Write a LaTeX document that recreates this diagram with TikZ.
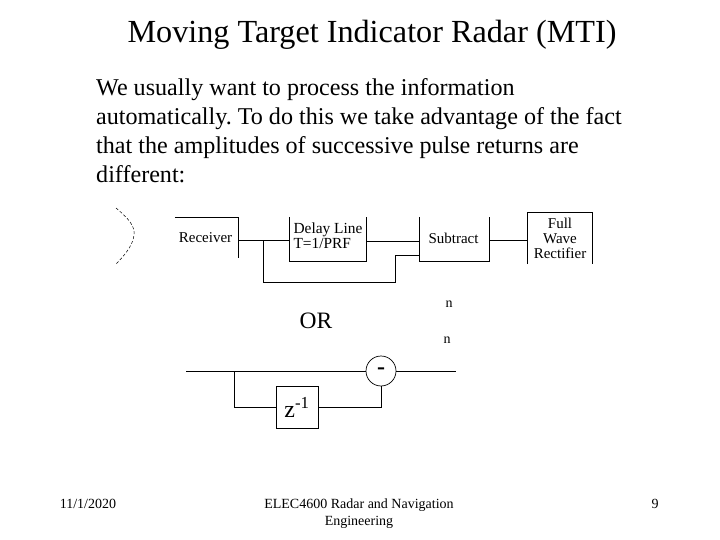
\documentclass[tikz,border=0pt]{standalone}
\usepackage{fontspec}
\setmainfont{Liberation Serif}
\usetikzlibrary{positioning, calc}

\begin{document}
\frenchspacing
\begin{tikzpicture}[
    x=1pt, y=-1pt,
    txt/.style={inner sep=0pt, align=center},
    openblock/.style={inner sep=0pt, align=center, font=\fontsize{15}{15}\selectfont},
    wire/.style={line width=0.9pt},
    page/.style={font=\fontsize{14}{17}\selectfont, inner sep=0pt, align=center},
]
\useasboundingbox (0, 0) rectangle (720, 540);

\node[txt, font=\fontsize{32.2}{36}\selectfont] (title) at (372, 35) {Moving Target Indicator Radar (MTI)};
\node[inner sep=0pt, align=left, anchor=north west, font=\fontsize{24.1}{29}\selectfont] (body) at (96, 78)
    {We usually want to process the information\\automatically. To do this we take advantage of the fact\\that the amplitudes of successive pulse returns are\\different:};

% upper chain
\node[openblock, minimum width=63pt, minimum height=40pt] (receiver) at (206.5, 238) {\raisebox{-2pt}{Receiver}\hspace{2pt}};
\node[openblock, minimum width=76pt, minimum height=44pt, align=left, font=\fontsize{15.4}{15}\selectfont] (delay) at (328, 239) {Delay Line\\T=1/PRF\\[-9pt]\mbox{}};
\node[openblock, minimum width=69pt, minimum height=44pt] (subtract) at (454.5, 239) {\raisebox{1pt}{Subtract}\hspace{2pt}};
\node[openblock, minimum width=64pt, minimum height=51pt] (rectifier) at (560, 238.5) {Full\\Wave\\Rectifier};

\draw[wire] (receiver.north west) -- (receiver.north east) -- (receiver.south east);
\draw[wire] (delay.north west) -- (delay.south west) -- (delay.south east) -- (delay.north east);
\draw[wire] (subtract.north west) -- (subtract.south west) -- (subtract.south east) -- (subtract.north east);
\draw[wire] (rectifier.south west) -- (rectifier.north west) -- (rectifier.north east) -- (rectifier.south east);

\coordinate (branch) at (263, 240);
\coordinate (subin) at (420, 255);
\draw[wire] (receiver.east |- branch) -- (delay.west |- branch);
\draw[wire] (branch) -- (263, 282) -- (395, 282) -- (395, 255) -- (subin);
\draw[wire] (delay.east |- 0, 241) -- (subtract.west |- 0, 241);
\draw[wire] (subtract.east |- 0, 240) -- (rectifier.west |- 0, 240);

% dish
\coordinate (dishtop) at (116, 208);
\coordinate (dishbot) at (116, 264);
\draw[line width=0.5pt, densely dashed] (dishtop) .. controls (129, 219) and (135, 226) .. (134, 235) .. controls (133, 245) and (125, 255) .. (dishbot);

\node[txt, font=\fontsize{23.5}{26}\selectfont] (or) at (316, 321) {OR};
\node[txt, font=\fontsize{14}{15}\selectfont] (n1) at (449, 304) {n};
\node[txt, font=\fontsize{14}{15}\selectfont] (n2) at (447, 340) {n};

% lower chain
\node[circle, draw, line width=0.7pt, minimum size=30pt, inner sep=0pt, font=\bfseries\fontsize{24}{24}\selectfont] (minus) at (381, 371) {\raisebox{-1.5pt}{-}};
\node[draw, line width=0.9pt, minimum size=42pt, inner sep=0pt, font=\fontsize{24}{28}\selectfont] (zdelay) at (297, 407) {\raisebox{-1pt}{z\textsuperscript{-1}}};
\coordinate (inleft) at (186, 371);
\coordinate (outright) at (456, 371);
\coordinate (tap) at (234, 371);

\draw[wire] (inleft) -- (minus.west);
\draw[wire] (minus.east) -- (outright);
\draw[wire] (tap) |- (zdelay.west);
\draw[wire] (zdelay.east) -| (minus.south);

% footer
\node[page] (date) at (88, 504) {11/1/2020};
\node[page] (course) at (359, 514) {ELEC4600 Radar and Navigation\\Engineering};
\node[page] (num) at (655, 504) {9};

\end{tikzpicture}
\end{document}
